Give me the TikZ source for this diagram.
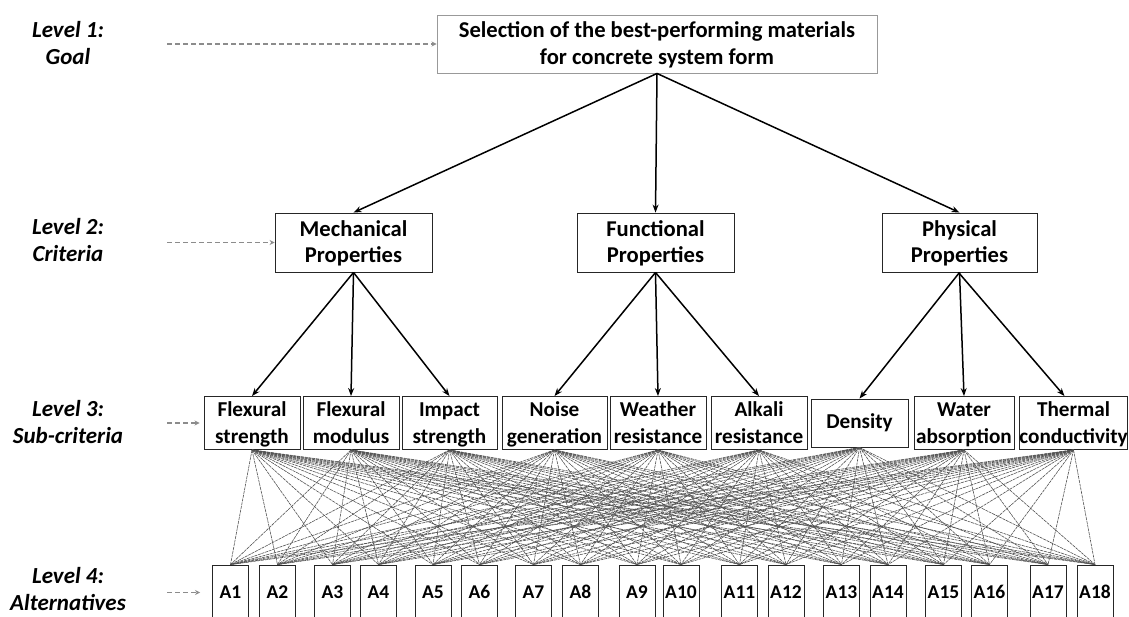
\documentclass[tikz,border=0pt]{standalone}
\usepackage{fontspec}
\setmainfont{Carlito}
\usetikzlibrary{arrows.meta}
\newcommand{\mfont}{\fontsize{22.6}{26.5}\selectfont\bfseries}
\newcommand{\sfontx}{\fontsize{21.2}{25}\selectfont\bfseries}
\newcommand{\afont}{\fontsize{19.5}{23}\selectfont\bfseries}
\newcommand{\lfont}{\fontsize{23}{27}\selectfont\bfseries\itshape}
\newcommand{\sst}{\rule[-6pt]{0pt}{26pt}}
\newcommand{\sss}{\rule[-6pt]{0pt}{26pt}}
\begin{document}
\begin{tikzpicture}[x=1pt,y=-1pt,
  bx/.style={draw=black!85, line width=0.9pt, inner sep=0pt, align=center, font=\mfont},
  goalbox/.style={bx, draw=black!40},
  critbox/.style={bx, minimum width=157pt, minimum height=59pt},
  subbox/.style={bx, minimum height=48pt, font=\sfontx},
  altbox/.style={bx, minimum width=36pt, minimum height=55pt, font=\afont, text height=14pt, text depth=2pt},
  lvl/.style={align=center, font=\lfont, inner sep=0pt},
  mainarrow/.style={line width=1.5pt, -{Stealth[length=8pt,width=6pt]}},
  lvlarrow/.style={draw=black!45, line width=1.5pt, dash pattern=on 5pt off 3pt, -{Stealth[length=5pt,width=5pt]}},
  web/.style={draw=black!68, line width=0.6pt, dash pattern=on 3pt off 0.8pt}
]
\useasboundingbox (0,0) rectangle (1129,616);

% Level labels
\node[lvl] (l1) at (68,43.5) {\sst Level 1:\\\sst Goal};
\node[lvl] (l2) at (68,240.5) {\sst Level 2:\\\sst Criteria};
\node[lvl] (l3) at (68,422.5) {\sst Level 3:\\\sst Sub-criteria};
\node[lvl] (l4) at (68,589.5) {\sst Level 4:\\\sst Alternatives};

% Goal
\node[goalbox, minimum width=440pt, minimum height=58pt] (goal) at (657,44)
  {\sst Selection of the best-performing materials\\\sst for concrete system form};

% Criteria
\node[critbox] (mech) at (353.5,242.5) {\sst Mechanical\\\sst Properties};
\node[critbox] (func) at (655.5,242.5) {\sst Functional\\\sst Properties};
\node[critbox, minimum width=155pt] (phys) at (959.5,242.5) {\sst Physical\\\sst Properties};

% Sub-criteria
\node[subbox, minimum width=96pt]  (s1) at (252,423)    {\sss Flexural\\\sss strength};
\node[subbox, minimum width=96pt]  (s2) at (351,423)    {\sss Flexural\\\sss modulus};
\node[subbox, minimum width=95pt]  (s3) at (449.5,423)  {\sss Impact\\\sss strength};
\node[subbox, minimum width=105pt] (s4) at (554.5,423)  {\sss Noise\\\sss generation};
\node[subbox, minimum width=96pt]  (s5) at (658,423)    {\sss Weather\\\sss resistance};
\node[subbox, minimum width=96pt]  (s6) at (759,423)    {\sss Alkali\\\sss resistance};
\node[subbox, minimum width=97pt, text height=14pt, text depth=4pt] (s7) at (859.5,423) {Density};
\node[subbox, minimum width=100pt] (s8) at (964,423)    {\sss Water\\\sss absorption};
\node[subbox, minimum width=107pt] (s9) at (1073.5,423) {\sss Thermal\\\sss conductivity};

% Alternatives
\foreach \i/\x in {1/230.5,2/277.5,3/332.5,4/378.5,5/433,6/479.5,7/533.5,8/580.5,9/637,
                   10/681,11/739.5,12/786,13/841.5,14/888,15/943.5,16/989.5,17/1048,18/1095}
  \node[altbox] (a\i) at (\x,592.5) {A\i};

% Web of connections
\foreach \s in {1,...,9}
  \foreach \a in {1,...,18}
    \draw[web] (s\s.south) -- (a\a.north);

% Main arrows
\draw[mainarrow] (goal.south) -- (mech.north);
\draw[mainarrow] (goal.south) -- (func.north);
\draw[mainarrow] (goal.south) -- (phys.north);
\draw[mainarrow] (mech.south) -- (s1.north);
\draw[mainarrow] (mech.south) -- (s2.north);
\draw[mainarrow] (mech.south) -- (s3.north);
\draw[mainarrow] (func.south) -- (s4.north);
\draw[mainarrow] (func.south) -- (s5.north);
\draw[mainarrow] (func.south) -- (s6.north);
\draw[mainarrow] (phys.south) -- (s7.north);
\draw[mainarrow] (phys.south) -- (s8.north);
\draw[mainarrow] ([xshift=-1pt]phys.south) -- ([xshift=-9pt]s9.north);

% Level arrows
\coordinate (c1) at (167,44);
\coordinate (c2) at (167,242.5);
\coordinate (c3) at (167,423);
\coordinate (c4) at (167,592.5);
\draw[lvlarrow] (c1) -- (goal.west);
\draw[lvlarrow] (c2) -- (mech.west);
\draw[lvlarrow, shorten >=4pt] (c3) -- (s1.west);
\draw[lvlarrow, shorten >=12pt] (c4) -- (a1.west);
\end{tikzpicture}
\end{document}
